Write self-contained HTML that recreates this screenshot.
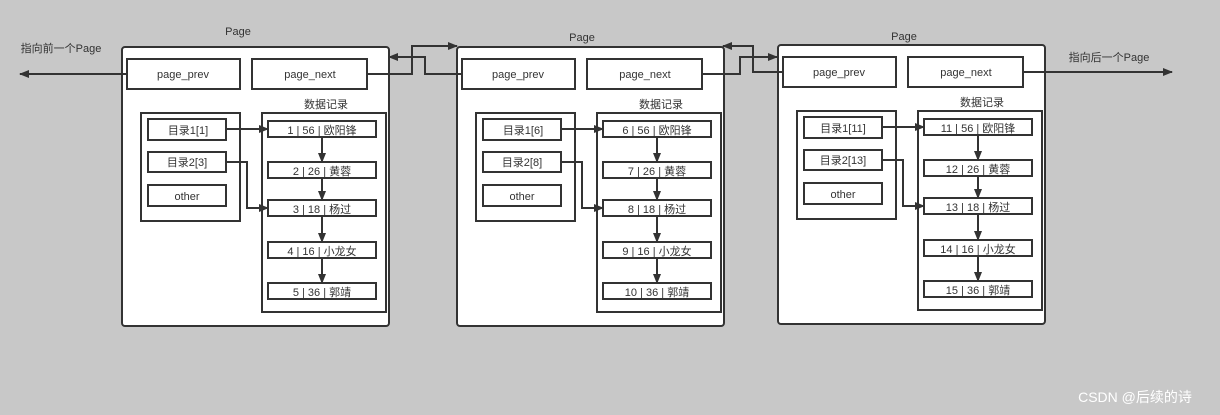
<!DOCTYPE html>
<html><head><meta charset="utf-8"><style>
html,body{margin:0;padding:0;background:#c8c8c8;}
svg{display:block;font-family:"Liberation Sans","Noto Sans CJK SC",sans-serif;}
text{fill:#333;font-size:11px;text-anchor:middle;}
</style></head><body>
<svg width="1220" height="415" viewBox="0 0 1220 415" xmlns="http://www.w3.org/2000/svg">
<defs>
<marker id="a" markerWidth="10" markerHeight="8" refX="9" refY="4" orient="auto" markerUnits="userSpaceOnUse"><path d="M0,0 L10,4 L0,8 Z" fill="#333"/></marker>
<g id="pg">
<rect x="122" y="47" width="267" height="279" rx="3" fill="#fff" stroke="#333" stroke-width="2"/>
<rect x="127" y="59" width="113" height="30" fill="#fff" stroke="#333" stroke-width="2"/>
<text x="183" y="78">page_prev</text>
<rect x="252" y="59" width="115" height="30" fill="#fff" stroke="#333" stroke-width="2"/>
<text x="310" y="78">page_next</text>
<text x="326" y="108">数据记录</text>
<rect x="141" y="113" width="99" height="108" fill="#fff" stroke="#333" stroke-width="2"/>
<rect x="148" y="119" width="78" height="21" fill="#fff" stroke="#333" stroke-width="2"/>
<rect x="148" y="152" width="78" height="20" fill="#fff" stroke="#333" stroke-width="2"/>
<rect x="148" y="185" width="78" height="21" fill="#fff" stroke="#333" stroke-width="2"/>
<text x="187" y="200">other</text>
<rect x="262" y="113" width="124" height="199" fill="#fff" stroke="#333" stroke-width="2"/>
<rect x="268" y="121" width="108" height="16" fill="#fff" stroke="#333" stroke-width="2"/>
<rect x="268" y="162" width="108" height="16" fill="#fff" stroke="#333" stroke-width="2"/>
<rect x="268" y="200" width="108" height="16" fill="#fff" stroke="#333" stroke-width="2"/>
<rect x="268" y="242" width="108" height="16" fill="#fff" stroke="#333" stroke-width="2"/>
<rect x="268" y="283" width="108" height="16" fill="#fff" stroke="#333" stroke-width="2"/>
<g stroke="#333" stroke-width="2" fill="none" marker-end="url(#a)">
<path d="M322,137 L322,162"/><path d="M322,178 L322,200"/><path d="M322,216 L322,242"/><path d="M322,258 L322,283"/>
<path d="M226,129 L268,129"/><path d="M226,162 L247,162 L247,208 L268,208"/>
</g>
</g>
</defs>
<use href="#pg"/>
<use href="#pg" transform="translate(335,0)"/>
<use href="#pg" transform="translate(656,-2)"/>
<text x="238" y="35">Page</text>
<text x="582" y="41">Page</text>
<text x="904" y="40">Page</text>
<text x="61" y="52">指向前一个Page</text>
<text x="1109" y="61">指向后一个Page</text>
<!-- page1 -->
<text x="188" y="134">目录1[1]</text><text x="187" y="166">目录2[3]</text>
<text x="322" y="134">1 | 56 | 欧阳锋</text><text x="322" y="175">2 | 26 | 黄蓉</text><text x="322" y="213">3 | 18 | 杨过</text><text x="322" y="255">4 | 16 | 小龙女</text><text x="322" y="296">5 | 36 | 郭靖</text>
<!-- page2 -->
<text x="523" y="134">目录1[6]</text><text x="522" y="166">目录2[8]</text>
<text x="657" y="134">6 | 56 | 欧阳锋</text><text x="657" y="175">7 | 26 | 黄蓉</text><text x="657" y="213">8 | 18 | 杨过</text><text x="657" y="255">9 | 16 | 小龙女</text><text x="657" y="296">10 | 36 | 郭靖</text>
<!-- page3 -->
<text x="843" y="132">目录1[11]</text><text x="843" y="164">目录2[13]</text>
<text x="978" y="132">11 | 56 | 欧阳锋</text><text x="978" y="173">12 | 26 | 黄蓉</text><text x="978" y="211">13 | 18 | 杨过</text><text x="978" y="253">14 | 16 | 小龙女</text><text x="978" y="294">15 | 36 | 郭靖</text>
<g stroke="#333" stroke-width="2" fill="none" marker-end="url(#a)">
<path d="M127,74 L20,74"/>
<path d="M367,74 L412,74 L412,46 L457,46"/>
<path d="M462,74 L425,74 L425,57 L389,57"/>
<path d="M702,74 L740,74 L740,57 L777,57"/>
<path d="M783,72 L753,72 L753,46 L723,46"/>
<path d="M1022,72 L1172,72"/>
</g>
<text x="1135" y="402" style="font-size:14px;fill:#fff;">CSDN @后续的诗</text>
</svg>
</body></html>
